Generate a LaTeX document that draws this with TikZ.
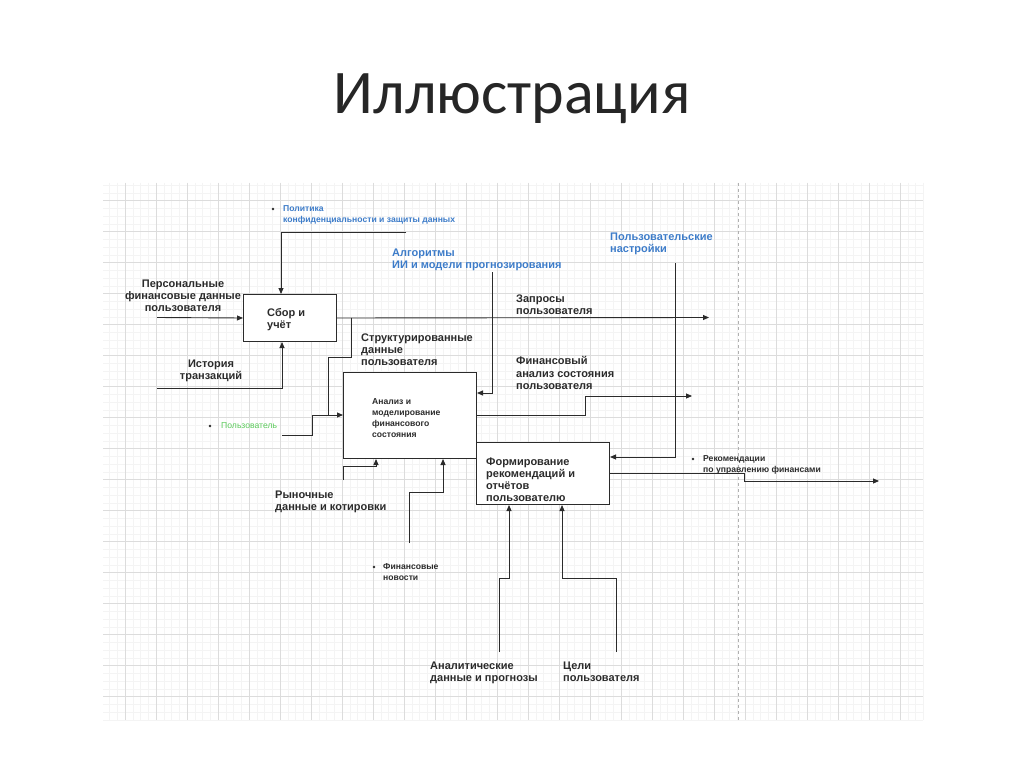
\documentclass[tikz,border=0pt]{standalone}
\usepackage{fontspec}
\setmainfont{Liberation Sans}
\newfontfamily\titlefont{Carlito}
\usetikzlibrary{arrows.meta,calc}
\definecolor{ink}{HTML}{2B2B2B}
\definecolor{bluelbl}{HTML}{3D7CC9}
\definecolor{greenlbl}{HTML}{5CCB5C}
\definecolor{gridminor}{HTML}{F4F4F4}
\definecolor{gridmajor}{HTML}{DCDCDC}
\tikzset{
  box/.style={draw=ink, line width=1pt, fill=white, anchor=north west, inner sep=0pt},
  conn/.style={draw=ink, line width=0.9pt},
  arr/.style={conn, -{Triangle[length=6pt,width=5pt]}},
  lbl/.style={font=\fontsize{11}{12.2}\selectfont\bfseries, text=ink, inner sep=0pt, align=left, anchor=north west, yshift=-3.5pt},
  clbl/.style={lbl, align=center, anchor=north},
  blbl/.style={lbl, text=bluelbl},
  slbl/.style={font=\fontsize{8.6}{11}\selectfont\bfseries, text=ink, inner sep=0pt, align=left, anchor=north west, yshift=-3pt},
  sblue/.style={slbl, text=bluelbl},
  sgreen/.style={slbl, text=greenlbl, font=\fontsize{8.6}{11}\selectfont},
  dot/.style={circle, fill=ink, inner sep=0pt, minimum size=2.6pt, yshift=-2pt}
}
\begin{document}
\begin{tikzpicture}[x=1pt,y=-1pt]
\useasboundingbox (0,0) rectangle (1024,767);
\fill[white] (0,0) rectangle (1024,767);
% title
\node[font=\titlefont\fontsize{62}{66}\selectfont, text=black!85, inner sep=0pt] (title) at (512,99) {Иллюстрация};
% grid
\foreach \i in {0,...,105} {\draw[gridminor, line width=0.5pt] (109.5+7.75*\i,183) -- (109.5+7.75*\i,720);}
\foreach \j in {0,...,69} {\draw[gridminor, line width=0.5pt] (103,185.2+7.75*\j) -- (923,185.2+7.75*\j);}
\foreach \i in {0,...,25} {\draw[gridmajor, line width=0.6pt] (125+31*\i,183) -- (125+31*\i,720);}
\foreach \j in {0,...,16} {\draw[gridmajor, line width=0.6pt] (103,200.7+31*\j) -- (923,200.7+31*\j);}
\draw[gridmajor!80!black, line width=0.6pt, dash pattern=on 3pt off 3pt] (738,183) -- (738,720);

% boxes
\node[box, minimum width=93pt, minimum height=47pt] (collect) at (243,294) {};
\node[box, minimum width=133pt, minimum height=86pt] (analysis) at (343,372) {};
\node[box, minimum width=133pt, minimum height=62pt] (form) at (476,442) {};
\node[lbl] (collectT) at (267,305) {Сбор и\\учёт};
\node[slbl] (analysisT) at (372,395) {Анализ и\\моделирование\\финансового\\состояния};
\node[lbl] (formT) at (486,454) {Формирование\\рекомендаций и\\отчётов\\пользователю};

% labels
\node[clbl] (persT) at (183,276) {Персональные\\финансовые данные\\пользователя};
\node[clbl] (histT) at (211,356) {История\\транзакций};
\node[lbl] (reqT) at (516,291) {Запросы\\пользователя};
\node[lbl] (structT) at (361,330) {Структурированные\\данные\\пользователя};
\node[lbl] (finT) at (516,353) {Финансовый\\анализ состояния\\пользователя};
\node[lbl] (marketT) at (275,487) {Рыночные\\данные и котировки};
\node[lbl] (anT) at (430,658) {Аналитические\\данные и прогнозы};
\node[lbl] (goalT) at (563,658) {Цели\\пользователя};
\node[blbl] (algT) at (392,245) {Алгоритмы\\ИИ и модели прогнозирования};
\node[blbl] (setT) at (610,229) {Пользовательские\\настройки};
\node[dot] (polD) at (273,207) {};
\node[sblue] (polT) at (283,202) {Политика\\конфиденциальности и защиты данных};
\node[dot, yshift=2pt] (userD) at (210,426) {};
\node[sgreen, anchor=west, yshift=3pt] (userT) at (221,426) {Пользователь};
\node[dot] (newsD) at (374,565) {};
\node[slbl] (newsT) at (383,560) {Финансовые\\новости};
\node[dot] (recD) at (693,457) {};
\node[slbl] (recT) at (703,452) {Рекомендации\\по управлению финансами};

% free ends and bends
\coordinate (persIn) at (157,317.5);
\coordinate (histIn) at (157,388);
\coordinate (polIn) at (406,232);
\coordinate (algIn) at (492,272);
\coordinate (setIn) at (675,263);
\coordinate (userIn) at (282,435);
\coordinate (mktIn) at (343,480);
\coordinate (newsIn) at (409,543);
\coordinate (anIn) at (499,652);
\coordinate (goalIn) at (616,652);
\coordinate (reqOut) at (709,317.5);
\coordinate (finOut) at (692,396);
\coordinate (recOut) at (879,481);
\coordinate (j1) at (351,317.5);

% connectors
\draw[arr] (persIn) -- (collect.west);
\draw[arr] (polIn) -- (281,232) -- (281,0 |- collect.north);
\draw[arr] (histIn) -- (282,388) -- (282,0 |- collect.south);
\draw[arr] (collect.east) -- (reqOut);
\draw[conn] (j1) -- (351,357) -- (328,357) -- (328,415);
\draw[arr] (userIn) -- (312,435) -- (312,415) -- (analysis.west |- 0,415);
\draw[arr] (algIn) -- (492,393) -- (analysis.east |- 0,393);
\draw[arr] (mktIn) -- (343,466) -- (376,466) -- (376,0 |- analysis.south);
\draw[arr] (newsIn) -- (409,492) -- (443,492) -- (443,0 |- analysis.south);
\draw[arr] (analysis.east |- 0,415) -- (585,415) -- (585,396) -- (finOut);
\draw[arr] (setIn) -- (675,457) -- (form.east |- 0,457);
\draw[arr] (form.east |- 0,473) -- (744,473) -- (744,481) -- (recOut);
\draw[arr] (anIn) -- (499,578) -- (509,578) -- (509,0 |- form.south);
\draw[arr] (goalIn) -- (616,578) -- (562,578) -- (562,0 |- form.south);
\end{tikzpicture}
\end{document}
